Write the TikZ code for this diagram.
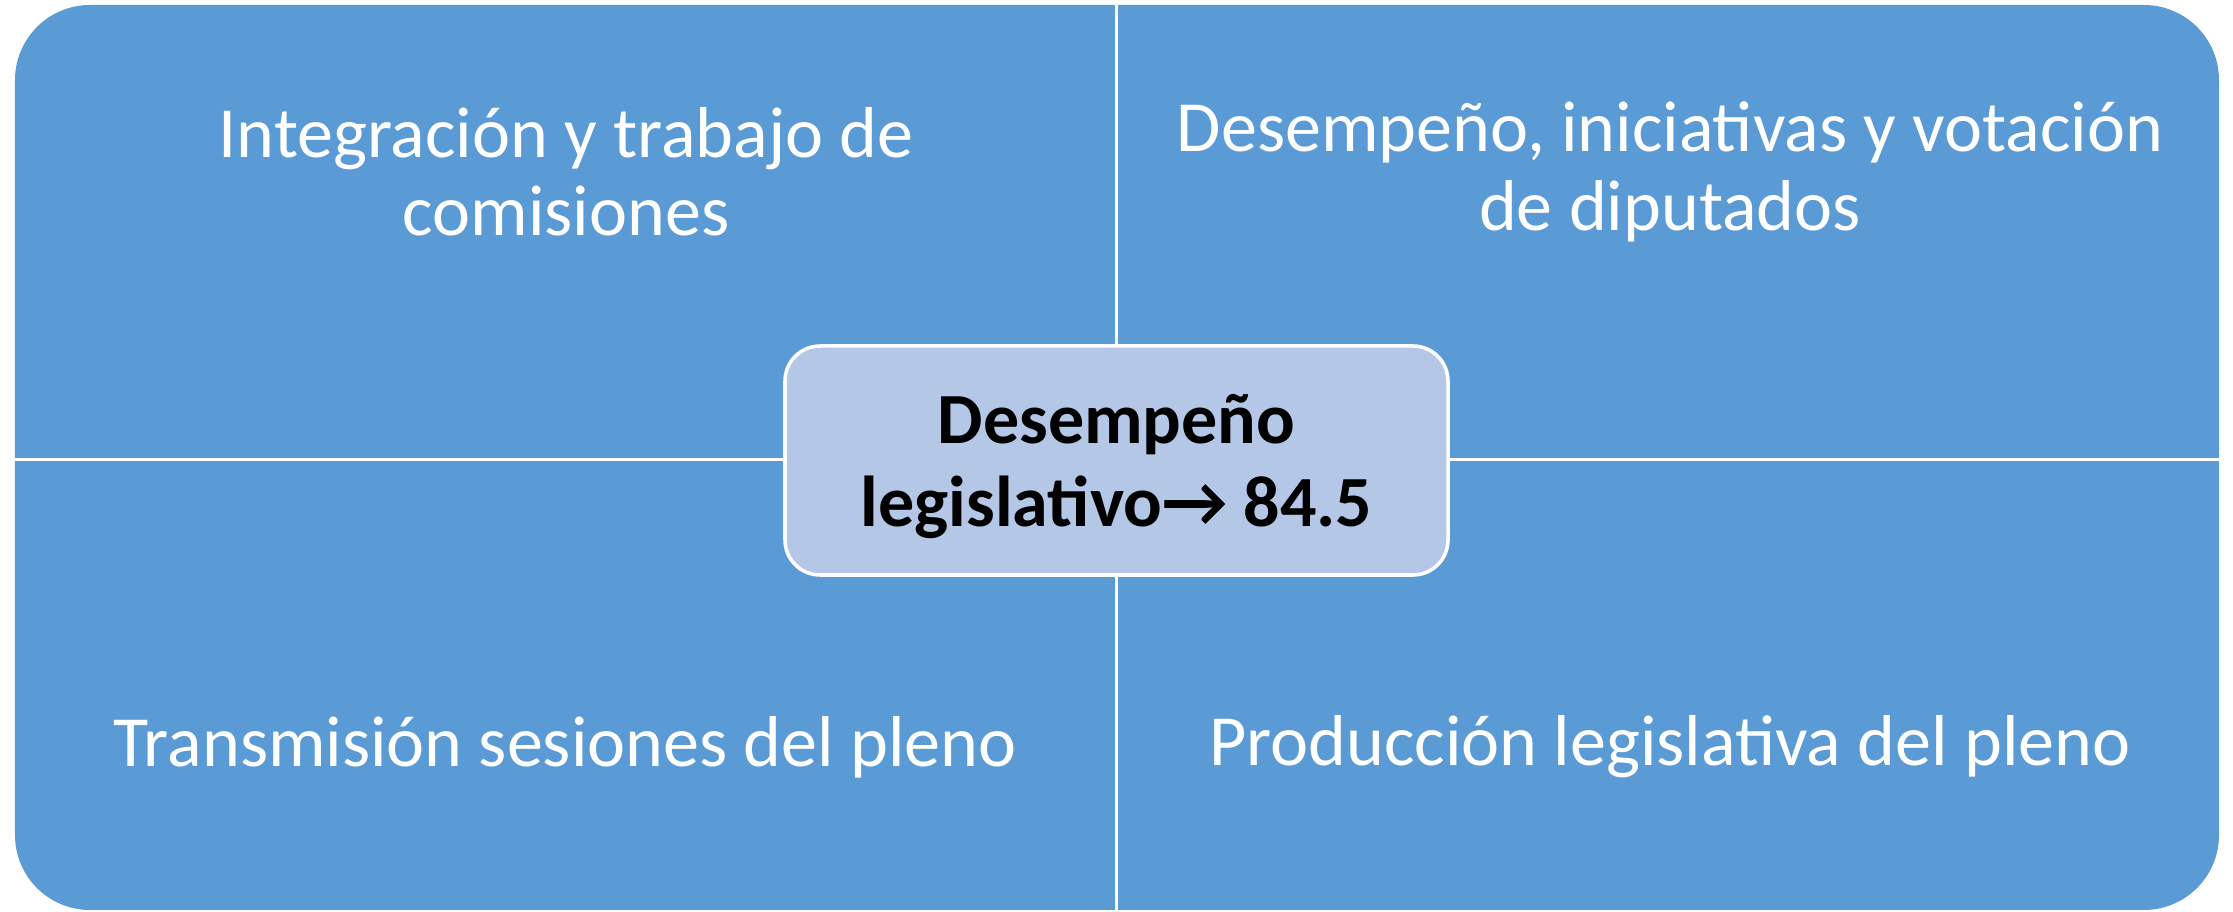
\documentclass[tikz,border=0pt]{standalone}
\usepackage{fontspec}
\setmainfont{Carlito}
\usetikzlibrary{positioning}
\definecolor{quadblue}{HTML}{5B9BD5}
\definecolor{hubblue}{HTML}{B4C7E7}
\begin{document}
\begin{tikzpicture}[every node/.style={align=center,inner sep=0pt},
  quadtext/.style={text=white,font=\fontsize{20.5}{22.3}\selectfont},
  hub/.style={draw=white,line width=1pt,fill=hubblue,rounded corners=0.35cm,
    minimum width=6.63cm,minimum height=2.29cm,font=\bfseries\fontsize{20.5}{23.6}\selectfont}]
\useasboundingbox (0,0) rectangle (22.33,9.12);
\fill[quadblue,rounded corners=0.75cm] (0.15,0.02) rectangle (22.19,9.07);
\draw[white,line width=0.03cm] (11.165,0.02) -- (11.165,9.07);
\draw[white,line width=0.03cm] (0.15,4.52) -- (22.19,4.52);
\node[quadtext] (comisiones) at (5.66,7.40) {Integración y trabajo de\\comisiones};
\node[quadtext] (diputados) at (16.70,7.40) {Desempeño, iniciativas y votación\\de diputados};
\node[quadtext] (transmision) at (5.65,1.65) {Transmisión sesiones del pleno};
\node[quadtext] (produccion) at (16.70,1.65) {Producción legislativa del pleno};
\node[hub,text depth=0pt] (desempeno) at (11.165,4.515) {Desempeño\\legislativo→ 84.5};
\end{tikzpicture}
\end{document}
